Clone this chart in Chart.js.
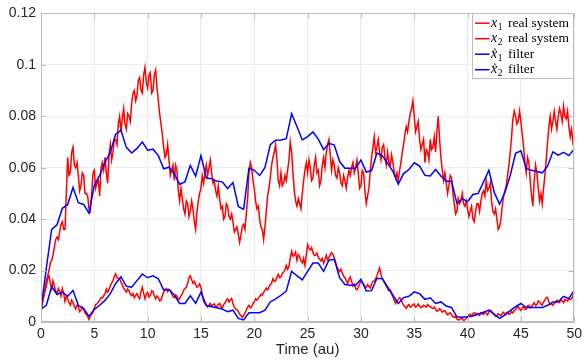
<!DOCTYPE html>
<html><head><meta charset="utf-8">
<script src="https://cdn.jsdelivr.net/npm/chart.js@4"></script>
<style>html,body{margin:0;padding:0;background:#fff}</style>
</head><body>
<canvas id="c" width="586" height="362" style="display:block"></canvas>
<script>
const redStep = 0.125;
const filterStep = 0.5;

const x1Real = [
 0.005,0.008,0.010,0.013,0.016,0.018,0.020,0.023,0.024,0.026,0.029,0.032,0.033,0.032,0.035,0.038,0.039,0.036,0.036,0.050,
 0.064,0.057,0.058,0.066,0.068,0.061,0.060,0.062,0.057,0.051,0.053,0.058,0.057,0.050,0.050,0.049,0.044,0.043,0.050,0.058,
 0.059,0.052,0.054,0.055,0.049,0.060,0.062,0.059,0.064,0.058,0.054,0.065,0.069,0.063,0.066,0.071,0.071,0.069,0.077,0.080,
 0.074,0.079,0.083,0.077,0.075,0.081,0.080,0.078,0.085,0.089,0.090,0.086,0.088,0.094,0.095,0.090,0.089,0.096,0.099,0.093,
 0.091,0.096,0.097,0.089,0.090,0.096,0.098,0.091,0.086,0.081,0.077,0.073,0.068,0.064,0.065,0.069,0.063,0.057,0.059,0.061,
 0.055,0.061,0.059,0.051,0.047,0.052,0.048,0.044,0.042,0.047,0.046,0.041,0.043,0.047,0.044,0.039,0.036,0.043,0.047,0.050,
 0.052,0.057,0.054,0.058,0.061,0.057,0.060,0.063,0.058,0.054,0.055,0.051,0.049,0.053,0.048,0.044,0.045,0.040,0.041,0.046,
 0.045,0.041,0.040,0.042,0.039,0.035,0.036,0.037,0.034,0.031,0.034,0.037,0.038,0.036,0.042,0.048,0.058,0.062,0.060,0.055,
 0.052,0.047,0.044,0.045,0.040,0.037,0.036,0.032,0.037,0.043,0.049,0.052,0.056,0.061,0.064,0.066,0.069,0.063,0.055,0.053,
 0.058,0.053,0.054,0.057,0.055,0.059,0.063,0.070,0.066,0.058,0.051,0.047,0.045,0.048,0.046,0.044,0.050,0.055,0.059,0.062,
 0.058,0.063,0.060,0.055,0.056,0.061,0.064,0.058,0.059,0.053,0.055,0.061,0.064,0.060,0.066,0.069,0.071,0.065,0.059,0.063,
 0.061,0.057,0.056,0.060,0.058,0.054,0.053,0.057,0.055,0.052,0.056,0.059,0.057,0.060,0.062,0.058,0.060,0.063,0.058,0.052,
 0.053,0.059,0.058,0.051,0.046,0.049,0.052,0.059,0.064,0.068,0.072,0.066,0.068,0.071,0.066,0.063,0.068,0.069,0.064,0.061,
 0.066,0.062,0.061,0.065,0.062,0.058,0.056,0.058,0.055,0.059,0.062,0.066,0.069,0.073,0.076,0.074,0.078,0.081,0.083,0.086,
 0.080,0.074,0.076,0.078,0.071,0.067,0.069,0.071,0.062,0.067,0.066,0.063,0.071,0.067,0.068,0.072,0.066,0.074,0.080,0.071,
 0.064,0.059,0.055,0.058,0.054,0.050,0.053,0.057,0.056,0.050,0.046,0.042,0.043,0.048,0.046,0.047,0.050,0.046,0.045,0.047,
 0.044,0.041,0.043,0.045,0.040,0.039,0.043,0.046,0.046,0.043,0.047,0.050,0.051,0.049,0.055,0.051,0.052,0.054,0.047,0.043,
 0.042,0.044,0.040,0.036,0.037,0.040,0.045,0.049,0.051,0.053,0.057,0.061,0.066,0.072,0.079,0.082,0.080,0.077,0.078,0.082,
 0.078,0.073,0.068,0.062,0.058,0.064,0.062,0.055,0.049,0.045,0.055,0.061,0.058,0.052,0.047,0.050,0.046,0.052,0.057,0.063,
 0.070,0.076,0.080,0.075,0.078,0.082,0.078,0.075,0.080,0.083,0.081,0.078,0.084,0.080,0.079,0.082,0.076,0.072,0.075,0.070,
 0.072
];

const x2Real = [
 0.0045,0.007,0.010,0.012,0.014,0.017,0.018,0.015,0.013,0.016,0.014,0.012,0.011,0.013,0.012,0.010,0.013,0.011,0.008,0.010,
 0.009,0.0075,0.0065,0.0085,0.0077,0.006,0.005,0.0065,0.006,0.004,0.0045,0.0058,0.005,0.0035,0.003,0.0022,0.001,0.0025,0.003,0.0038,
 0.0055,0.0068,0.007,0.0078,0.0084,0.0095,0.0094,0.0102,0.011,0.0128,0.0116,0.0128,0.014,0.0152,0.016,0.0178,0.0187,0.0172,0.017,0.0168,
 0.0155,0.0145,0.013,0.0125,0.0116,0.0128,0.0123,0.0108,0.0103,0.011,0.0094,0.0104,0.011,0.0098,0.009,0.0118,0.0135,0.0112,0.009,0.0108,
 0.0115,0.0098,0.0103,0.0122,0.0118,0.0102,0.009,0.0101,0.0095,0.0082,0.0085,0.0102,0.0115,0.0125,0.013,0.0118,0.0125,0.0122,0.011,0.0098,
 0.0095,0.0105,0.010,0.0088,0.009,0.0102,0.011,0.0124,0.013,0.0135,0.015,0.0172,0.018,0.0165,0.015,0.0158,0.0145,0.0135,0.014,0.0148,
 0.0135,0.0105,0.008,0.0072,0.0065,0.0058,0.0065,0.0072,0.0062,0.0068,0.007,0.0058,0.006,0.0068,0.0072,0.006,0.0053,0.0068,0.0074,0.0085,
 0.009,0.0078,0.0085,0.0092,0.0072,0.0058,0.005,0.0048,0.004,0.003,0.0025,0.0018,0.0025,0.0035,0.0045,0.0058,0.0065,0.0056,0.006,0.0072,
 0.0078,0.009,0.0085,0.0092,0.010,0.0108,0.0104,0.0115,0.0123,0.0132,0.0125,0.0138,0.0145,0.0152,0.0168,0.0158,0.016,0.0175,0.0185,0.0172,
 0.0175,0.0188,0.0194,0.0202,0.022,0.0205,0.0215,0.025,0.0275,0.0255,0.026,0.0272,0.024,0.0262,0.0255,0.0238,0.023,0.0248,0.022,0.026,
 0.030,0.0285,0.028,0.029,0.027,0.0258,0.026,0.0268,0.025,0.0245,0.0238,0.0248,0.0228,0.0242,0.026,0.0242,0.025,0.0262,0.027,0.0262,
 0.025,0.0232,0.0215,0.0205,0.0196,0.0205,0.019,0.0178,0.0172,0.016,0.015,0.0165,0.0175,0.0158,0.014,0.0148,0.013,0.0125,0.0135,0.0148,
 0.0162,0.0152,0.0148,0.0138,0.0135,0.0145,0.0138,0.0132,0.0148,0.0158,0.016,0.0168,0.018,0.0195,0.021,0.0185,0.017,0.0162,0.015,0.014,
 0.013,0.0122,0.0125,0.011,0.0097,0.0085,0.0072,0.0082,0.0088,0.0095,0.009,0.0075,0.0065,0.006,0.0053,0.0062,0.0068,0.0058,0.006,0.0068,
 0.007,0.0058,0.0062,0.007,0.0062,0.0056,0.0058,0.0065,0.0062,0.0058,0.0068,0.0062,0.006,0.0055,0.0052,0.0058,0.005,0.0042,0.0045,0.0052,
 0.0047,0.0038,0.0042,0.0045,0.0035,0.0028,0.0033,0.0036,0.0028,0.002,0.0018,0.0022,0.0012,0.0008,0.0009,0.0015,0.0012,0.0006,0.0008,0.0015,
 0.002,0.0028,0.003,0.0022,0.0032,0.0036,0.0028,0.0034,0.003,0.0025,0.0036,0.0032,0.003,0.0038,0.0034,0.0028,0.004,0.0046,0.0042,0.0035,
 0.0028,0.0022,0.0025,0.0032,0.0028,0.0024,0.0033,0.0038,0.003,0.0035,0.0038,0.003,0.0032,0.004,0.0035,0.0045,0.0048,0.0055,0.006,0.005,
 0.0045,0.0055,0.006,0.0048,0.005,0.0062,0.0065,0.0055,0.006,0.0068,0.0075,0.0064,0.0068,0.0082,0.0078,0.007,0.0065,0.0078,0.0085,0.0095,
 0.0095,0.0078,0.0068,0.0072,0.0065,0.0072,0.0078,0.0085,0.0082,0.0076,0.0088,0.0082,0.0075,0.0088,0.0085,0.0082,0.0092,0.0088,0.009,0.0102,
 0.0118
];

const x1Filter = [
 0.005,0.021,0.036,0.0378,0.0442,0.0456,0.0523,0.0464,0.0457,0.0423,
 0.0532,0.057,0.0621,0.066,0.073,0.0746,0.0679,0.0657,0.0675,0.070,
 0.0668,0.0672,0.0647,0.0596,0.0602,0.0576,0.0536,0.0545,0.0609,0.0567,
 0.0647,0.056,0.0557,0.0547,0.0545,0.0519,0.0542,0.0449,0.0438,0.0598,
 0.059,0.057,0.060,0.069,0.0707,0.0708,0.0713,0.081,0.076,0.0708,
 0.0721,0.0739,0.0711,0.067,0.0695,0.0688,0.0624,0.0598,0.0598,0.0598,
 0.063,0.0583,0.0589,0.0657,0.0647,0.0617,0.0586,0.0536,0.0577,0.0593,
 0.0619,0.0606,0.057,0.0568,0.0593,0.0568,0.0547,0.0547,0.0461,0.048,
 0.0468,0.0496,0.050,0.0545,0.059,0.0504,0.0458,0.0504,0.057,0.0656,
 0.0666,0.0596,0.059,0.0585,0.058,0.0606,0.0662,0.0649,0.066,0.0647,
 0.0673
];

const x2Filter = [
 0.005,0.0065,0.0138,0.0107,0.0116,0.010,0.0123,0.0065,0.0052,0.0022,
 0.0049,0.0065,0.0084,0.011,0.015,0.0176,0.0139,0.0135,0.0161,0.0187,
 0.0172,0.018,0.0168,0.0125,0.0126,0.0105,0.0072,0.0072,0.0102,0.0073,
 0.0116,0.0065,0.0059,0.0055,0.005,0.004,0.0046,0.0014,0.0008,0.0036,
 0.0036,0.0036,0.0046,0.0078,0.009,0.0104,0.012,0.0197,0.018,0.0164,
 0.0197,0.0229,0.0229,0.0197,0.024,0.0244,0.0172,0.0146,0.0143,0.0143,
 0.0166,0.0121,0.0122,0.017,0.0168,0.0136,0.0104,0.0072,0.0095,0.010,
 0.0117,0.011,0.0088,0.0094,0.0072,0.0078,0.0062,0.0056,0.002,0.0018,
 0.002,0.0023,0.003,0.0038,0.0046,0.003,0.0014,0.0027,0.0044,0.006,
 0.0072,0.0056,0.0056,0.0056,0.0056,0.0065,0.0078,0.0078,0.010,0.0091,
 0.0123
];

const xTickLabels = ['0','5','10','15','20','25','30','35','40','45','50'];
const yTickLabels = ['0','0.02','0.04','0.06','0.08','0.1','0.12'];
const seriesNames = ['real system','real system','filter','filter'];
const seriesColors = ['#ff0000','#ff0000','#0000ff','#0000ff'];
const xTitle = 'Time (au)';

const toPts = (arr, step) => arr.map((v, i) => ({x: i * step, y: v}));

const AXIS_COL = '#bcbcbc';
const TXT_COL = '#262626';

const boxPlugin = {
  id: 'boxAndLegend',
  afterDraw(chart) {
    const ctx = chart.ctx, a = chart.chartArea;
    const xs = chart.scales.x, ys = chart.scales.y;
    ctx.save();
    ctx.strokeStyle = AXIS_COL;
    ctx.lineWidth = 1;
    const L = Math.round(a.left) + 0.5, R = Math.round(a.right) - 0.5;
    const T = Math.round(a.top) + 0.5, B = Math.round(a.bottom) - 0.5;
    ctx.beginPath();
    ctx.rect(L, T, R - L, B - T);
    xs.ticks.forEach(t => {
      const px = Math.round(xs.getPixelForValue(t.value)) + 0.5;
      ctx.moveTo(px, B); ctx.lineTo(px, B - 5);
      ctx.moveTo(px, T); ctx.lineTo(px, T + 5);
    });
    ys.ticks.forEach(t => {
      const py = Math.round(ys.getPixelForValue(t.value)) + 0.5;
      ctx.moveTo(L, py); ctx.lineTo(L + 5, py);
      ctx.moveTo(R, py); ctx.lineTo(R - 5, py);
    });
    ctx.stroke();

    // legend
    const bx = 472.5, by = 13.5, bw = 101, bh = 65;
    ctx.fillStyle = '#ffffff';
    ctx.fillRect(bx, by, bw, bh);
    ctx.strokeStyle = '#bcbcbc';
    ctx.strokeRect(bx, by, bw, bh);
    const rows = [22.7, 38.2, 53.7, 69.2];
    const serif = '"Liberation Serif", "DejaVu Serif", serif';
    for (let i = 0; i < 4; i++) {
      const y = rows[i];
      ctx.strokeStyle = seriesColors[i];
      ctx.lineWidth = 1.5;
      ctx.beginPath(); ctx.moveTo(475, y + 0.5); ctx.lineTo(489.5, y + 0.5); ctx.stroke();
      ctx.fillStyle = '#000';
      ctx.textBaseline = 'alphabetic';
      let x = 491;
      const base = y + 4;
      ctx.font = 'italic 14px ' + serif;
      ctx.fillText('x', x, base);
      const xw = ctx.measureText('x').width;
      if (i >= 2) {
        ctx.font = '11px ' + serif;
        ctx.fillText('^', x + 1.2, base - 3.2);
      }
      x += xw + 0.5;
      ctx.font = '9.5px ' + serif;
      const sub = (i % 2 === 0) ? '1' : '2';
      ctx.fillText(sub, x, base + 3);
      x = 508;
      ctx.font = '13.5px ' + serif;
      ctx.fillText(seriesNames[i], x, base);
    }
    ctx.restore();
  }
};

new Chart(document.getElementById('c'), {
  type: 'line',
  data: {
    datasets: [
      {label: 'x1 real system', data: toPts(x1Real, redStep), borderColor: seriesColors[0], borderWidth: 1.5, order: 2},
      {label: 'x2 real system', data: toPts(x2Real, redStep), borderColor: seriesColors[1], borderWidth: 1.5, order: 2},
      {label: 'x1 filter', data: toPts(x1Filter, filterStep), borderColor: seriesColors[2], borderWidth: 1.5, order: 1},
      {label: 'x2 filter', data: toPts(x2Filter, filterStep), borderColor: seriesColors[3], borderWidth: 1.5, order: 1}
    ]
  },
  options: {
    responsive: false,
    animation: false,
    elements: {point: {radius: 0}, line: {tension: 0, fill: false}},
    layout: {padding: {top: 9, right: 8, left: 0, bottom: 0}},
    plugins: {legend: {display: false}, tooltip: {enabled: false}},
    scales: {
      x: {
        type: 'linear', min: 0, max: 50,
        ticks: {stepSize: 5, autoSkip: false, maxRotation: 0, padding: 4,
          callback: (v, i) => xTickLabels[i],
          font: {family: '"Liberation Sans", Arial, sans-serif', size: 14}, color: TXT_COL},
        grid: {color: '#ececec', drawTicks: false},
        border: {color: AXIS_COL},
        title: {display: true, text: xTitle, color: TXT_COL,
          font: {family: '"Liberation Sans", Arial, sans-serif', size: 15},
          padding: {top: 0, bottom: 3}},
        afterFit: s => { s.height = 40; }
      },
      y: {
        min: 0, max: 0.12,
        ticks: {stepSize: 0.02, padding: 5,
          callback: (v, i) => yTickLabels[i],
          font: {family: '"Liberation Sans", Arial, sans-serif', size: 14}, color: TXT_COL},
        grid: {color: '#ececec', drawTicks: false},
        border: {color: AXIS_COL},
        afterFit: s => { s.width = 41; }
      }
    }
  },
  plugins: [boxPlugin]
});
</script>
</body></html>
